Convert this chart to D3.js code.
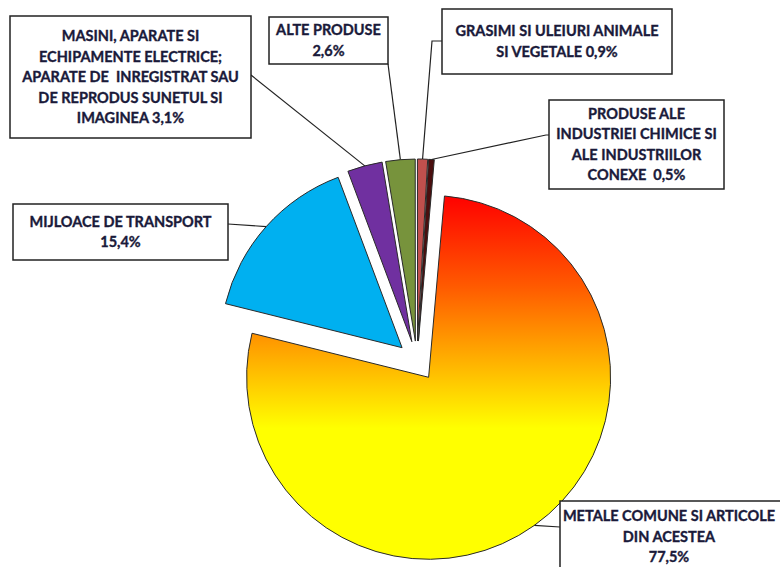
<!DOCTYPE html>
<html>
<head>
<meta charset="utf-8">
<script src="https://cdn.jsdelivr.net/npm/d3@7"></script>
<style>
  body { margin: 0; background: #fff; }
  svg { display: block; }
  .lbl { font-family: Lato, "Open Sans", sans-serif; font-weight: 700; font-size: 14.5px; fill: #1a1a3a; stroke: #1a1a3a; stroke-width: 0.35px; white-space: pre; }
</style>
</head>
<body>
<svg id="chart" width="780" height="567"></svg>
<script>
// Slice data, clockwise from the top
const categories = [
  'METALE COMUNE SI ARTICOLE DIN ACESTEA',
  'MIJLOACE DE TRANSPORT',
  'MASINI, APARATE SI ECHIPAMENTE ELECTRICE; APARATE DE INREGISTRAT SAU DE REPRODUS SUNETUL SI IMAGINEA',
  'ALTE PRODUSE',
  'GRASIMI SI ULEIURI ANIMALE SI VEGETALE',
  'PRODUSE ALE INDUSTRIEI CHIMICE SI ALE INDUSTRIILOR CONEXE'
]
const shares = [77.5, 15.4, 3.1, 2.6, 0.9, 0.5]
const shareLabels = ['77,5%', '15,4%', '3,1%', '2,6%', '0,9%', '0,5%']

// Label text as it is broken in the boxes
const labelLines = [
  ['METALE COMUNE SI ARTICOLE', 'DIN ACESTEA', '77,5%'],
  ['MIJLOACE DE TRANSPORT', '15,4%'],
  ['MASINI, APARATE SI', 'ECHIPAMENTE ELECTRICE;', 'APARATE DE  INREGISTRAT SAU', 'DE REPRODUS SUNETUL SI', 'IMAGINEA 3,1%'],
  ['ALTE PRODUSE', '2,6%'],
  ['GRASIMI SI ULEIURI ANIMALE', 'SI VEGETALE 0,9%'],
  ['PRODUSE ALE', 'INDUSTRIEI CHIMICE SI', 'ALE INDUSTRIILOR', 'CONEXE  0,5%']
]

const fills = ['url(#metalGrad)', '#00b0f0', '#7030a0', '#77933c', '#c0504d', '#4a0e0e']

// Layout of the callout boxes (x, y, w, h) and where the leader meets them
const boxes = [
  { x: 560, y: 501, w: 218, h: 80, ax: 560, ay: 527 },
  { x: 13, y: 204, w: 215, h: 56, ax: 228, ay: 224 },
  { x: 10, y: 16, w: 241, h: 122, ax: 251, ay: 75 },
  { x: 269, y: 17, w: 119, h: 47, ax: 388, ay: 64 },
  { x: 442, y: 9, w: 230, h: 65, ax: 442, ay: 41, ex: 432 },
  { x: 549, y: 100, w: 175, h: 89, ax: 549, ay: 135, ex: 546 }
]

const cx = 417
const cy = 361
const radius = 182
const explode = 20
const rotation = 5 * Math.PI / 180
const lineHeight = 20.5

const svg = d3.select('#chart')

// Red to yellow gradient of the big slice (in the slice's own coordinates)
const grad = svg.append('defs').append('linearGradient')
  .attr('id', 'metalGrad')
  .attr('gradientUnits', 'userSpaceOnUse')
  .attr('x1', 0).attr('y1', -radius)
  .attr('x2', 0).attr('y2', radius)
grad.selectAll('stop')
  .data([[0, '#ff0000'], [0.25, '#ff5a00'], [0.52, '#ffcc00'], [0.64, '#ffff00'], [1, '#ffff00']])
  .enter().append('stop')
  .attr('offset', d => d[0])
  .attr('stop-color', d => d[1])

const pie = d3.pie().sort(null)
  .startAngle(rotation)
  .endAngle(rotation + 2 * Math.PI)
const arcs = pie(shares)
const arc = d3.arc().innerRadius(0).outerRadius(radius)

const mid = d => (d.startAngle + d.endAngle) / 2

const g = svg.append('g').attr('transform', `translate(${cx},${cy})`)

g.selectAll('.slice')
  .data(arcs)
  .enter()
  .append('path')
  .attr('class', 'slice')
  .attr('transform', d => `translate(${explode * Math.sin(mid(d))},${-explode * Math.cos(mid(d))})`)
  .attr('d', arc)
  .style('fill', (d, i) => fills[i])
  .style('stroke', '#2a2a2a')
  .style('stroke-width', 1)

// Leader lines from the middle of each arc to its box
svg.selectAll('.leader')
  .data(arcs)
  .enter()
  .append('polyline')
  .attr('class', 'leader')
  .attr('points', (d, i) => {
    const b = boxes[i]
    const rr = radius + explode
    const px = cx + rr * Math.sin(mid(d))
    const py = cy - rr * Math.cos(mid(d))
    const pts = [[px, py]]
    if (b.ex !== undefined) pts.push([b.ex, b.ay])
    pts.push([b.ax, b.ay])
    return pts.map(p => p.join(',')).join(' ')
  })
  .style('fill', 'none')
  .style('stroke', '#222')
  .style('stroke-width', 1.2)

const labels = svg.selectAll('.label')
  .data(categories)
  .enter()
  .append('g')
  .attr('class', 'label')

labels.append('rect')
  .attr('x', (d, i) => boxes[i].x)
  .attr('y', (d, i) => boxes[i].y)
  .attr('width', (d, i) => i === 0 ? boxes[i].w + 20 : boxes[i].w)
  .attr('height', (d, i) => boxes[i].h)
  .style('fill', '#fff')
  .style('stroke', '#222')
  .style('stroke-width', 1.5)

labels.each(function (d, i) {
  const b = boxes[i]
  const lines = labelLines[i]
  const top = i === 0 ? b.y + 15 : b.y + b.h / 2 - (lines.length - 1) * lineHeight / 2
  d3.select(this).selectAll('text')
    .data(lines)
    .enter()
    .append('text')
    .attr('class', 'lbl')
    .attr('x', b.x + b.w / 2)
    .attr('y', (l, j) => top + j * lineHeight + 5)
    .attr('text-anchor', 'middle')
    .text(l => l)
})
</script>
</body>
</html>
